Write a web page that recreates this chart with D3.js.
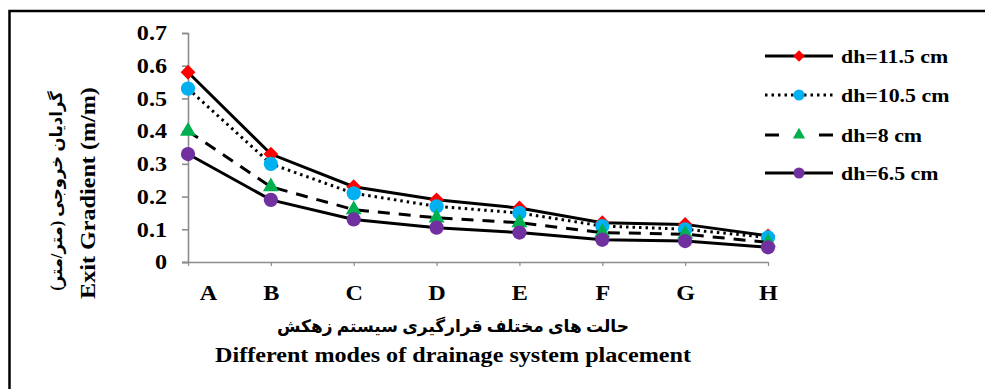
<!DOCTYPE html>
<html>
<head>
<meta charset="utf-8">
<script src="https://cdn.jsdelivr.net/npm/d3@7/dist/d3.min.js"></script>
<style>
  html, body { margin: 0; padding: 0; background: #fff; }
  svg { display: block; }
  .serif { font-family: "Liberation Serif", "Times New Roman", "DejaVu Sans", serif; font-weight: bold; }
</style>
</head>
<body>
<svg id="chart" width="985" height="389"></svg>
<script>
// Drain placement modes on the x axis
const categories = ["A", "B", "C", "D", "E", "F", "G", "H"];

// Exit gradient (m/m) for each head difference
const dh115 = [0.58, 0.33, 0.23, 0.19, 0.165, 0.12, 0.115, 0.08];
const dh105 = [0.53, 0.30, 0.21, 0.17, 0.15, 0.11, 0.10, 0.075];
const dh8   = [0.40, 0.23, 0.16, 0.135, 0.12, 0.09, 0.085, 0.06];
const dh65  = [0.33, 0.19, 0.13, 0.105, 0.09, 0.068, 0.064, 0.045];

const seriesNames = ["dh=11.5 cm", "dh=10.5 cm", "dh=8 cm", "dh=6.5 cm"];
const yTicks = [0, 0.1, 0.2, 0.3, 0.4, 0.5, 0.6, 0.7];

const series = [
  { name: seriesNames[0], values: dh115, color: "#FF0000", marker: "diamond", dash: null },
  { name: seriesNames[1], values: dh105, color: "#00B0F0", marker: "circle", dash: "2.5 4" },
  { name: seriesNames[2], values: dh8,   color: "#00B050", marker: "triangle", dash: "12 9" },
  { name: seriesNames[3], values: dh65,  color: "#7030A0", marker: "circle", dash: null }
];

// the lettering is set slightly wide
const SX = 1.15;

const svg = d3.select("#chart");

// outer frame (runs past the right and bottom edges)
svg.append("rect")
  .attr("x", 9.5).attr("y", 11)
  .attr("width", 1000).attr("height", 400)
  .attr("fill", "none").attr("stroke", "#000").attr("stroke-width", 2.5);

const x = d3.scalePoint().domain(categories).range([188, 768]);
const y = d3.scaleLinear().domain([0, 0.7]).range([262, 33]);

const axisColor = "#8c8c8c";

// y axis
const yAxis = svg.append("g")
  .attr("transform", "translate(188,0)")
  .call(d3.axisLeft(y).tickValues(yTicks).tickSize(6).tickPadding(14)
    .tickFormat(d => d === 0 ? "0" : d3.format(".1f")(d)));
yAxis.select(".domain").attr("stroke", axisColor).attr("stroke-width", 1.6);
yAxis.selectAll(".tick line").attr("stroke", axisColor).attr("stroke-width", 1.6);
yAxis.selectAll(".tick text")
  .attr("class", "serif").attr("font-size", 21).attr("fill", "#000")
  .attr("x", -21 / SX)
  .attr("transform", `scale(${SX},1)`);

// x axis
const xAxis = svg.append("g")
  .attr("transform", "translate(0,262)")
  .call(d3.axisBottom(x).tickSize(4).tickPadding(14));
xAxis.select(".domain").attr("stroke", axisColor).attr("stroke-width", 1.6)
  .attr("d", "M182,0.5H768");
xAxis.selectAll(".tick line").attr("stroke", axisColor).attr("stroke-width", 1.2);
xAxis.selectAll(".tick text")
  .attr("class", "serif").attr("font-size", 21).attr("fill", "#000")
  .attr("dy", "0.95em")
  .attr("dx", d => d === categories[0] ? 20 / SX : 0)
  .attr("transform", `scale(${SX},1)`);

// marker shapes
const diamond = {
  draw(context, size) {
    const r = Math.sqrt(size / 2);
    context.moveTo(0, -r); context.lineTo(r, 0); context.lineTo(0, r); context.lineTo(-r, 0);
    context.closePath();
  }
};
const symbolFor = { diamond: diamond, circle: d3.symbolCircle, triangle: d3.symbolTriangle };
const sizes = { diamond: 110, circle: 160, triangle: 110 };
function drawMarker(g, s, cx, cy, scale) {
  g.append("path")
    .attr("d", d3.symbol().type(symbolFor[s.marker]).size(sizes[s.marker] * scale)())
    .attr("transform", `translate(${cx},${cy})`)
    .attr("fill", s.color);
}

const line = d3.line()
  .x((d, i) => x(categories[i]))
  .y(d => y(d));

series.forEach(s => {
  const g = svg.append("g");
  g.append("path")
    .datum(s.values)
    .attr("d", line)
    .attr("fill", "none")
    .attr("stroke", "#000")
    .attr("stroke-width", 3)
    .attr("stroke-dasharray", s.dash);
  s.values.forEach((v, i) => drawMarker(g, s, x(categories[i]), y(v), 1));
});

// legend
const legendY = [56, 95, 135, 173];
series.forEach((s, i) => {
  const g = svg.append("g");
  const ly = legendY[i];
  if (s.dash === "12 9") {
    g.append("line").attr("x1", 765).attr("x2", 779).attr("y1", ly).attr("y2", ly)
      .attr("stroke", "#000").attr("stroke-width", 3);
    g.append("line").attr("x1", 819).attr("x2", 833).attr("y1", ly).attr("y2", ly)
      .attr("stroke", "#000").attr("stroke-width", 3);
  } else {
    g.append("line").attr("x1", 765).attr("x2", 833).attr("y1", ly).attr("y2", ly)
      .attr("stroke", "#000").attr("stroke-width", 3)
      .attr("stroke-dasharray", s.dash);
  }
  drawMarker(g, s, 799, ly, 0.6);
  g.append("text")
    .attr("class", "serif")
    .attr("transform", `translate(841,${ly}) scale(${SX},1)`)
    .attr("dy", "0.35em")
    .attr("font-size", 19)
    .text(s.name);
});

// axis titles
svg.append("text")
  .attr("class", "serif")
  .attr("transform", "translate(62,191) rotate(-90)")
  .attr("text-anchor", "middle").attr("font-size", 16.5)
  .attr("direction", "rtl")
  .text("گرادیان خروجی (متر/متر)");
svg.append("text")
  .attr("class", "serif")
  .attr("transform", `translate(95,193) rotate(-90) scale(${SX},1)`)
  .attr("text-anchor", "middle").attr("font-size", 21)
  .text("Exit Gradient (m/m)");

svg.append("text")
  .attr("class", "serif")
  .attr("x", 453).attr("y", 332)
  .attr("text-anchor", "middle").attr("font-size", 17)
  .attr("direction", "rtl")
  .text("حالت های مختلف قرارگیری سیستم زهکش");
svg.append("text")
  .attr("class", "serif")
  .attr("transform", `translate(453,362) scale(${SX},1)`)
  .attr("text-anchor", "middle").attr("font-size", 21)
  .text("Different modes of drainage system placement");
</script>
</body>
</html>
